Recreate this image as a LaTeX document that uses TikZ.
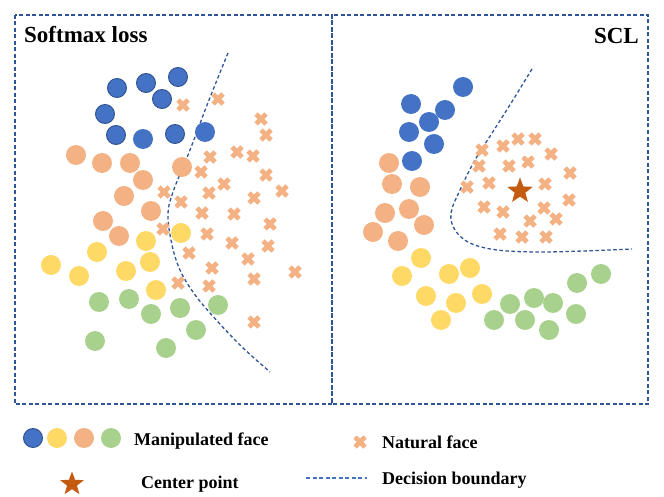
\documentclass[tikz,border=0pt]{standalone}
\usepackage{fontspec}
\setmainfont{Liberation Serif}
\usetikzlibrary{shapes.geometric}
\definecolor{blueF}{HTML}{4472C4}
\definecolor{blueD}{HTML}{2F528F}
\definecolor{orangeF}{HTML}{F4B183}
\definecolor{yellowF}{HTML}{FFD966}
\definecolor{greenF}{HTML}{A9D18E}
\definecolor{starC}{HTML}{C55A11}
\definecolor{lineC}{HTML}{2F5597}
\definecolor{legC}{HTML}{4472C4}
\tikzset{
  dot/.style={circle, minimum size=20pt, inner sep=0pt, outer sep=0pt},
  bluebd/.style={dot, fill=blueF, draw=blueD, line width=0.9pt, minimum size=19pt},
  bluec/.style={dot, fill=blueF},
  orangec/.style={dot, fill=orangeF},
  yellowc/.style={dot, fill=yellowF},
  greenc/.style={dot, fill=greenF},
  panel/.style={draw=lineC, line width=1.3pt, dash pattern=on 4pt off 2.5pt},
  boundary/.style={draw=lineC, line width=1.3pt, dash pattern=on 3.5pt off 2.5pt},
  legline/.style={draw=legC, line width=1.3pt, dash pattern=on 4pt off 2.5pt},
  centerstar/.style={star, star points=5, star point ratio=2.4, fill=starC, inner sep=0pt, minimum size=27pt},
  title/.style={font=\fontsize{23}{27}\selectfont\bfseries, inner sep=0pt},
  legtext/.style={font=\fontsize{18}{21}\selectfont\bfseries, inner sep=0pt, anchor=base west},
  xcross/.pic={\draw[line width=4.8pt, draw=orangeF] (-5,-5) -- (5,5) (-5,5) -- (5,-5);}
}
\begin{document}
\begin{tikzpicture}[x=1pt,y=-1pt]
\useasboundingbox (0,0) rectangle (664,497);
% panels
\draw[panel] (15,15) rectangle (332,404);
\draw[panel] (332,15) rectangle (648,404);
\node[title, anchor=base west] (t1) at (24,43) {Softmax loss};
\node[title, anchor=base east] (t2) at (639,44) {SCL};
% decision boundaries
\draw[boundary] plot[smooth, tension=0.6] coordinates {(228,53) (209,100) (190,150) (173,192) (168,215) (172,245) (180,270) (193,292) (210,313) (240,345) (270,372)};
\draw[boundary] plot[smooth, tension=0.6] coordinates {(532,69) (513,100) (494,130) (475,160) (460,190) (451,213) (455,230) (470,243) (497,250) (537,252) (583,251) (632,249)};
% left crosses
\foreach \p in {(183,105),(218,99),(261,119),(266,135),(210,157),(237,152),(253,156),(201,172),(266,175),(224,184),(282,191),(164,192),(209,193),(254,198),(181,202),(202,213),(234,214),(270,224),(163,229),(207,234),(232,243),(268,246),(189,253),(248,259),(212,268),(295,272),(254,279),(178,283),(209,286),(254,322)}
  \pic at \p {xcross};
% right crosses
\foreach \p in {(482,150),(503,146),(518,139),(535,139),(551,154),(479,166),(509,166),(528,162),(570,173),(467,187),(489,183),(545,184),(569,200),(484,207),(503,212),(544,208),(556,219),(530,221),(500,234),(522,237),(546,237)}
  \pic at \p {xcross};
% left circles
\foreach \p [count=\i] in {(117,88),(146,83),(178,77),(162,99),(105,114),(116,135),(175,134)}
  \node[bluebd] (lbb\i) at \p {};
\foreach \p [count=\i] in {(143,139),(205,132)}
  \node[bluec] (lb\i) at \p {};
\foreach \p [count=\i] in {(76,155),(102,163),(130,163),(143,180),(182,167),(124,196),(151,211),(103,221),(119,236)}
  \node[orangec] (lo\i) at \p {};
\foreach \p [count=\i] in {(181,233),(146,241),(97,252),(51,265),(79,276),(126,271),(150,262),(156,290)}
  \node[yellowc] (ly\i) at \p {};
\foreach \p [count=\i] in {(99,302),(129,299),(151,314),(180,308),(218,305),(196,330),(95,341),(166,348)}
  \node[greenc] (lg\i) at \p {};
% right circles
\foreach \p [count=\i] in {(463,87),(411,104),(445,110),(429,122),(409,132),(434,144),(412,161)}
  \node[bluec] (rb\i) at \p {};
\foreach \p [count=\i] in {(389,163),(392,184),(420,187),(385,213),(409,209),(424,225),(373,232),(398,241)}
  \node[orangec] (ro\i) at \p {};
\foreach \p [count=\i] in {(421,258),(402,276),(449,274),(470,268),(426,296),(456,303),(482,294),(441,320)}
  \node[yellowc] (ry\i) at \p {};
\foreach \p [count=\i] in {(510,304),(534,298),(553,303),(494,320),(525,320),(549,330),(577,283),(601,274),(576,314)}
  \node[greenc] (rg\i) at \p {};
\node[centerstar] (cstar) at (520,191) {};
% legend
\node[bluebd] (kb) at (33,438) {};
\node[yellowc] (ky) at (57,438) {};
\node[orangec] (ko) at (84,438) {};
\node[greenc] (kg) at (111,438) {};
\node[legtext] (kman) at (134,445) {Manipulated face};
\pic at (360,442) {xcross};
\node[legtext] (knat) at (382,448) {Natural face};
\node[centerstar, minimum size=25pt] (kstar) at (72,484) {};
\node[legtext] (kcen) at (141,488) {Center point};
\coordinate (kl1) at (306,478);
\coordinate (kl2) at (367,478);
\draw[legline] (kl1) -- (kl2);
\node[legtext] (kdec) at (382,484) {Decision boundary};
\end{tikzpicture}
\end{document}
